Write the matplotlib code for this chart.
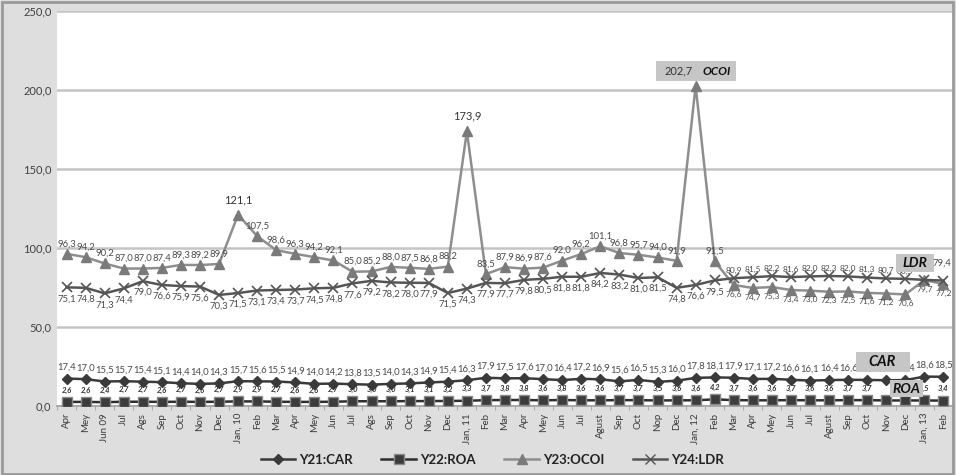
import matplotlib
matplotlib.use("Agg")
import matplotlib.pyplot as plt
from matplotlib.patches import Rectangle
from matplotlib.lines import Line2D

plt.rcParams['font.family'] = ['Lato', 'DejaVu Sans']

months = ["Apr", "Mey", "Jun 09", "Jul", "Ags", "Sep", "Oct", "Nov", "Dec",
          "Jan, 10", "Feb", "Mar", "Apr", "Mey", "Jun", "Jul", "Ags", "Sep", "Oct", "Nov", "Dec",
          "Jan, 11", "Feb", "Mar", "Apr", "Mey", "Jun", "Jul", "Agust", "Sep", "Oct", "Nop", "Dec",
          "Jan, 12", "Feb", "Mar", "Apr", "Mey", "Jun", "Jul", "Agust", "Sep", "Oct", "Nov", "Dec",
          "Jan, 13", "Feb"]

car = [17.4, 17.0, 15.5, 15.7, 15.4, 15.1, 14.4, 14.0, 14.3,
       15.7, 15.6, 15.5, 14.9, 14.0, 14.2, 13.8, 13.5, 14.0, 14.3, 14.9, 15.4,
       16.3, 17.9, 17.5, 17.6, 17.0, 16.4, 17.2, 16.9, 15.6, 16.5, 15.3, 16.0,
       17.8, 18.1, 17.9, 17.1, 17.2, 16.6, 16.1, 16.4, 16.6, 16.5, 16.3, 16.4,
       18.6, 18.5]

roa = [2.6, 2.6, 2.4, 2.7, 2.7, 2.6, 2.7, 2.6, 2.7,
       2.9, 2.9, 2.7, 2.6, 2.6, 2.7, 3.0, 3.0, 3.0, 3.1, 3.1, 3.2,
       3.3, 3.7, 3.8, 3.8, 3.6, 3.8, 3.6, 3.6, 3.7, 3.7, 3.5, 3.6,
       3.6, 4.2, 3.7, 3.6, 3.6, 3.7, 3.6, 3.6, 3.7, 3.7, 3.5, 3.5,
       3.5, 3.4]

ocoi = [96.3, 94.2, 90.2, 87.0, 87.0, 87.4, 89.3, 89.2, 89.9,
        121.1, 107.5, 98.6, 96.3, 94.2, 92.1, 85.0, 85.2, 88.0, 87.5, 86.8, 88.2,
        173.9, 83.5, 87.9, 86.9, 87.6, 92.0, 96.2, 101.1, 96.8, 95.7, 94.0, 91.9,
        202.7, 91.5, 76.6, 74.7, 75.3, 73.4, 73.0, 72.3, 72.5, 71.6, 71.2, 70.6,
        79.7, 77.2]

ldr = [75.1, 74.8, 71.3, 74.4, 79.0, 76.6, 75.9, 75.6, 70.3,
       71.5, 73.1, 73.4, 73.7, 74.5, 74.8, 77.6, 79.2, 78.2, 78.0, 77.9, 71.5,
       74.3, 77.9, 77.7, 79.8, 80.5, 81.8, 81.8, 84.2, 83.2, 81.0, 81.5, 74.8,
       76.6, 79.5, 80.9, 81.5, 82.2, 81.6, 82.0, 82.3, 82.0, 81.3, 80.7, 80.5,
       79.8, 79.4]

def fmt(v):
    return f"{v:.1f}".replace(".", ",")

W, H = 956, 475
fig = plt.figure(figsize=(W / 100, H / 100), dpi=100)
fig.patch.set_facecolor("#dedede")
fig.patches.append(Rectangle((0.002, 0.003), 0.995, 0.993, transform=fig.transFigure,
                             fill=False, edgecolor="#9a9a9a", linewidth=2.0))

left, right, top, bottom = 57, 953, 11, 406
ax = fig.add_axes([left / W, (H - bottom) / H, (right - left) / W, (bottom - top) / H])
ax.set_facecolor("white")

n = len(months)
x = list(range(n))
ax.set_xlim(-0.5, n - 0.5)
ax.set_ylim(0, 250)

ax.set_yticks([0, 50, 100, 150, 200, 250])
ax.set_yticklabels([fmt(v) for v in [0, 50, 100, 150, 200, 250]], fontsize=8, color="#404040")
ax.yaxis.grid(True, color="#c4c4c4", linewidth=1.8)
ax.set_axisbelow(True)
ax.tick_params(axis="y", length=0, pad=4)

ax.set_xticks(x)
ax.set_xticklabels(months, rotation=90, fontsize=7, color="#3a3a3a")
ax.tick_params(axis="x", length=0, pad=5)
ax.set_xticks([i - 0.5 for i in range(n + 1)], minor=True)
ax.tick_params(axis="x", which="minor", length=3, color="#a0a0a0", direction="out")

for s in ["top", "right", "left"]:
    ax.spines[s].set_visible(False)
ax.spines["bottom"].set_color("#a0a0a0")
ax.spines["bottom"].set_linewidth(1.2)

c_car, c_roa, c_ocoi, c_ldr = "#3a3a3a", "#2e2e2e", "#8e8e8e", "#555555"

ax.plot(x, ocoi, color=c_ocoi, lw=1.8, marker="^", ms=7, mfc="#7a7a7a", mec="#7a7a7a", zorder=3)
ax.plot(x, ldr, color=c_ldr, lw=1.8, marker="x", ms=7, mew=1.2, mec=c_ldr, zorder=3)
ax.plot(x, car, color=c_car, lw=1.8, marker="D", ms=5, mfc=c_car, mec=c_car, zorder=3)
ax.plot(x, roa, color=c_roa, lw=1.8, marker="s", ms=7, mfc="#3c3c3c", mec="#8a8a8a", mew=1, zorder=3)

lab_col = "#4a4a4a"
cross = 35  # from here OCOI lies below LDR
for i in x:
    small = 6.8 if i < cross else 6.0
    # OCOI labels
    if i in (9, 21):
        ax.annotate(fmt(ocoi[i]), (i, ocoi[i]), xytext=(0, 7), textcoords="offset points",
                    ha="center", va="bottom", fontsize=8, color="#333333", zorder=4)
    elif i == 33:
        pass
    elif i < cross:
        ax.annotate(fmt(ocoi[i]), (i, ocoi[i]), xytext=(0, 4), textcoords="offset points",
                    ha="center", va="bottom", fontsize=small, color=lab_col, zorder=4)
    else:
        ax.annotate(fmt(ocoi[i]), (i, ocoi[i]), xytext=(0, -4), textcoords="offset points",
                    ha="center", va="top", fontsize=small, color=lab_col, zorder=4)
    # LDR labels
    if i < cross:
        ax.annotate(fmt(ldr[i]), (i, ldr[i]), xytext=(0, -5), textcoords="offset points",
                    ha="center", va="top", fontsize=small, color=lab_col, zorder=4)
    elif i < n - 2:
        ax.annotate(fmt(ldr[i]), (i, ldr[i]), xytext=(0, 3), textcoords="offset points",
                    ha="center", va="bottom", fontsize=small, color=lab_col, zorder=4)
    # CAR labels
    if i not in (42, 43):
        ax.annotate(fmt(car[i]), (i, car[i]), xytext=(0, 5), textcoords="offset points",
                    ha="center", va="bottom", fontsize=6.8, color=lab_col, zorder=4)
    # ROA labels
    if i not in (43, 44):
        ax.annotate(fmt(roa[i]), (i, roa[i]), xytext=(0, 6), textcoords="offset points",
                    ha="center", va="bottom", fontsize=5.5, color="#333333",
                    style="italic", weight="bold", zorder=4)

ax.annotate(fmt(ldr[-1]), (n - 1, ldr[-1]), xytext=(-1, 9), textcoords="offset points",
            ha="center", va="bottom", fontsize=6.8, color=lab_col, zorder=6)

box_c = "#c6c6c6"
ax.add_patch(Rectangle((30.9, 206), 4.2, 12.5, facecolor=box_c, edgecolor="none", zorder=4))
ax.text(32.1, 212, fmt(ocoi[33]), ha="center", va="center", fontsize=8, color="#333333", zorder=5)
ax.text(34.1, 212, "OCOI", ha="center", va="center", fontsize=8.5, color="#111111",
        weight="bold", style="italic", zorder=5)

ax.add_patch(Rectangle((43.5, 85), 2.0, 11, facecolor=box_c, edgecolor="none", zorder=4))
ax.text(44.5, 90.5, "LDR", ha="center", va="center", fontsize=10, color="#111111",
        weight="bold", style="italic", zorder=5)

ax.add_patch(Rectangle((41.4, 21.5), 2.85, 12.7, facecolor=box_c, edgecolor="none", zorder=4))
ax.text(42.8, 27.8, "CAR", ha="center", va="center", fontsize=10.5, color="#111111",
        weight="bold", style="italic", zorder=5)

ax.add_patch(Rectangle((43.2, 5.7), 1.75, 10.8, facecolor=box_c, edgecolor="none", zorder=4))
ax.text(44.07, 11, "ROA", ha="center", va="center", fontsize=10, color="#111111",
        weight="bold", style="italic", zorder=5)

handles = [
    Line2D([], [], color=c_car, lw=1.8, marker="D", ms=5, mfc=c_car, mec=c_car),
    Line2D([], [], color=c_roa, lw=1.8, marker="s", ms=7, mfc="#3c3c3c", mec="#8a8a8a"),
    Line2D([], [], color=c_ocoi, lw=1.8, marker="^", ms=7, mfc="#7a7a7a", mec="#7a7a7a"),
    Line2D([], [], color=c_ldr, lw=1.8, marker="x", ms=7, mec=c_ldr),
]
fig.legend(handles, ["Y21:CAR", "Y22:ROA", "Y23:OCOI", "Y24:LDR"], loc="center",
           bbox_to_anchor=(0.515, 0.032), ncol=4, frameon=False,
           prop={"weight": "bold", "size": 9.5}, handlelength=2.6, columnspacing=2.2,
           handletextpad=0.3, labelcolor="#222222")

fig.savefig("out.png", dpi=100, facecolor=fig.get_facecolor())
